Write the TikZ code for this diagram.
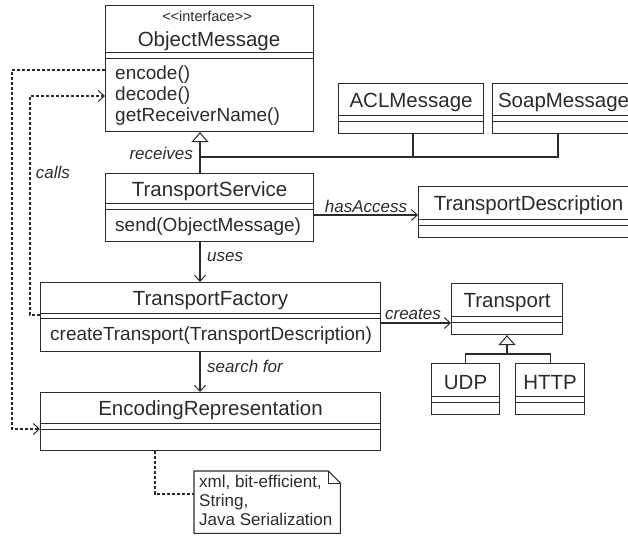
\documentclass[tikz,border=0pt]{standalone}
\usepackage{fontspec}
\setmainfont{Liberation Sans}
\usetikzlibrary{arrows.meta,calc}

\newcommand{\clsfont}{\fontsize{20.5}{24}\selectfont}
\newcommand{\mthfont}{\fontsize{19}{21}\selectfont}
\newcommand{\lblfont}{\fontsize{17}{20}\selectfont\itshape}
\newcommand{\notefont}{\fontsize{17}{19}\selectfont}

% a UML class: header, empty attribute band, operations band
% #1 name, #2 x-left, #3 x-right, #4 y-top, #5 y-header-bottom, #6 y-attr-bottom, #7 y-bottom, #8 header text, #9 operations
\newcommand{\umlclass}[9]{%
  \node[box, minimum width={#3-#2}, minimum height={#5-#4}] (#1) at (#2,#4) {};
  \node[box, minimum width={#3-#2}, minimum height={#6-#5}] (#1-a) at (#2,#5) {};
  \node[box, minimum width={#3-#2}, minimum height={#7-#6}] (#1-m) at (#2,#6) {};
  \node[clstext] (#1-t) at ($(#1.center)+(0,2.5)$) {#8};
  \node[mthtext, anchor=west] (#1-o) at ($(#1-m.west)+(10,1)$) {#9};
}

\definecolor{ink}{HTML}{2B2B2B}
\tikzset{
  box/.style={draw=ink, line width=1.1pt, anchor=north west, inner sep=0pt, rectangle},
  clstext/.style={font=\clsfont, inner sep=0pt, text=ink},
  mthtext/.style={font=\mthfont, inner sep=0pt, align=left, text=ink},
  lbl/.style={font=\lblfont, inner sep=0pt, text=ink},
  link/.style={draw=ink, line width=1.1pt},
  dep/.style={draw=ink, line width=1.4pt, dash pattern=on 3pt off 2pt},
  opentip/.style={-{Straight Barb[length=6pt,width=11pt,line width=1pt]}},
  inherit/.style={-{Triangle[open,length=10pt,width=17pt,line width=1pt,fill=white]}},
}

\begin{document}
\begin{tikzpicture}[x=1pt,y=-1pt]
\useasboundingbox (0,0) rectangle (628,535);
\clip (0,0) rectangle (628,535);

% ---- classes ----
\umlclass{om}{105}{313}{5}{52}{58}{131}{}{encode()\\decode()\\getReceiverName()}
\node[font=\fontsize{14.5}{16}\selectfont, inner sep=0pt, text=ink] (om-st) at (207,16) {<{}<interface>{}>};
\node[clstext] (om-name) at (209,41) {ObjectMessage};

\umlclass{acl}{338}{483}{83}{115}{121}{133}{ACLMessage}{}
\umlclass{soap}{492}{634}{83}{115}{121}{133}{SoapMessage}{}

\umlclass{ts}{105}{313}{173}{203}{209}{241}{TransportService}{send(ObjectMessage)}
\umlclass{td}{418}{638}{186}{219}{225}{237}{TransportDescription}{}

\umlclass{tf}{40}{380}{282}{313}{318}{351}{TransportFactory}{createTransport(TransportDescription)}
\umlclass{tr}{451}{562}{283}{316}{322}{334}{Transport}{}
\umlclass{udp}{431}{499}{363}{396}{402}{414}{UDP}{}
\umlclass{http}{515}{584}{363}{396}{402}{414}{HTTP}{}

\umlclass{er}{40}{380}{392}{423}{429}{450}{EncodingRepresentation}{}

% ---- helper coordinates for connector positions ----
\coordinate (axis) at (200,0);
\coordinate (jn) at (200,157);
\coordinate (aclx) at (413,0);
\coordinate (soapx) at (558,0);
\coordinate (hay) at (0,215);
\coordinate (cry) at (0,323);
\coordinate (tax) at (507,0);
\coordinate (tjn) at (507,354);
\coordinate (c1y) at (0,70);
\coordinate (c1x) at (12,0);
\coordinate (c1e) at (0,429);
\coordinate (c2y) at (0,315);
\coordinate (c2x) at (30,0);
\coordinate (c2e) at (0,96);
\coordinate (nx) at (155,0);

% ---- generalisation: messages ----
\draw[link, inherit] (ts.north -| axis) -- (axis |- om-m.south);
\draw[link] (jn) -| (soapx |- soap-m.south);
\draw[link] (aclx |- jn) -- (aclx |- acl-m.south);
\node[lbl, anchor=east] (recv) at (193,153) {receives};

% ---- associations ----
\draw[link, opentip] (ts-m.east |- hay) -- (td.west |- hay);
\node[lbl] (hasacc) at (366,206) {hasAccess};

\draw[link, opentip] (axis |- ts-m.south) -- (axis |- tf.north);
\node[lbl, anchor=west] (uses) at (207,257) {uses};

\draw[link, opentip] (tf-m.east |- cry) -- (tr-m.west |- cry);
\node[lbl] (creates) at (413,314) {creates};

\draw[link, opentip] (axis |- tf-m.south) -- (axis |- er.north);
\node[lbl, anchor=west] (search) at (207,366) {search for};

% ---- generalisation: transports ----
\draw[link, inherit] (tjn) -- (tax |- tr-m.south);
\draw[link] (udp.north) |- (http.north |- tjn) -- (http.north);

% ---- calls (dependencies) ----
\draw[dep, opentip] (om-m.west |- c1y) -| (c1x |- c1e) -- (er-a.west |- c1e);
\draw[dep, opentip] (tf-a.west |- c2y) -| (c2x |- c2e) -- (om-m.west |- c2e);
\node[lbl] (calls) at (53,172) {calls};

% ---- note ----
\node[inner sep=0pt, minimum width=146, minimum height=62, anchor=north west] (note) at (194,471) {};
\draw[link] (note.north west) -- ($(note.north east)+(-12,0)$) -- ($(note.north east)+(0,12)$)
  -- (note.south east) -- (note.south west) -- cycle;
\draw[link, line width=0.8pt] ($(note.north east)+(-12,0)$) |- ($(note.north east)+(0,12)$);
\node[font=\notefont, inner sep=0pt, align=left, anchor=north west, text=ink] (notetext) at (199,475)
  {xml, bit-efficient,\\String,\\Java Serialization};
\draw[dep] (nx |- er-m.south) |- (note.west |- 0,494);
\end{tikzpicture}
\end{document}
